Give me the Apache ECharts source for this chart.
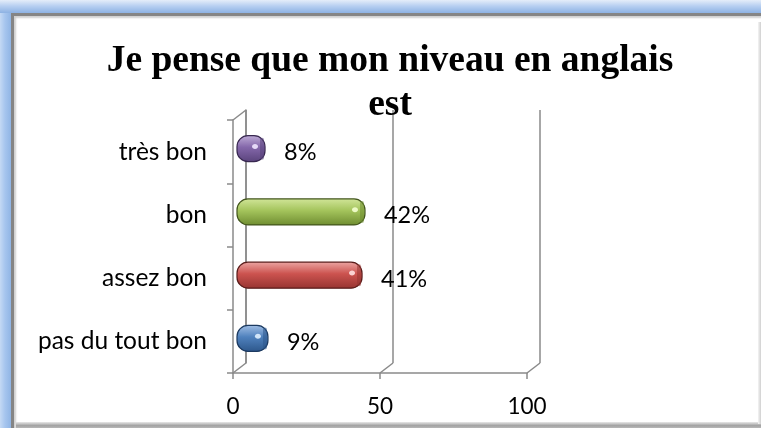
<!DOCTYPE html>
<html>
<head>
<meta charset="utf-8">
<script src="https://cdn.jsdelivr.net/npm/echarts@6/dist/echarts.min.js"></script>
<style>
html,body{margin:0;padding:0;width:761px;height:428px;overflow:hidden;background:#fff}
#frame{position:absolute;left:0;top:0;width:761px;height:428px;background:linear-gradient(to bottom,#e4edf9 0px,#b7cff1 6px,#8db2e3 13px,#8db2e3 100%)}
#leftband{position:absolute;left:0;top:13px;width:11px;height:415px;background:linear-gradient(to right,#c4d9f4 0px,#a6c5ee 5px,#90b5e5 11px)}
#panel{position:absolute;left:11px;top:13px;width:750px;height:415px;background:#fff;box-shadow:inset 3px 3px 0 #858585, inset 5px 5px 2px #d0d0d0}
#bottom{position:absolute;left:16px;top:422px;width:745px;height:6px;background:linear-gradient(to bottom,#e8e8e8,#a2a2a2 60%,#b8b8b8)}
#right{position:absolute;left:758px;top:22px;width:3px;height:402px;background:linear-gradient(to right,#f4f4f4,#d0d0d0)}
#chart{position:absolute;left:0;top:0;width:761px;height:428px}
</style>
</head>
<body>
<div id="frame"></div>
<div id="leftband"></div>
<div id="panel"></div>
<div id="bottom"></div>
<div id="right"></div>
<div id="chart"></div>
<script>
// ---- data ----
const titleText = 'Je pense que mon niveau en anglais\nest';
const categories = ['pas du tout bon', 'assez bon', 'bon', 'très bon'];
const values = [9, 41, 42, 8];
const xTicks = [0, 50, 100];
const xMin = 0, xMax = 100, xInterval = 50;

// ---- styles ----
const barColors = [
  {light: '#a3c0e6', base: '#4f81bd', dark: '#2c568a', border: '#1c3a60', spot: '#dff0ff'},
  {light: '#eca8a5', base: '#cc534f', dark: '#963431', border: '#5a1d1b', spot: '#ffe0e0'},
  {light: '#d2e69a', base: '#a4c45c', dark: '#6e8c30', border: '#43561d', spot: '#f4ffd0'},
  {light: '#c0aed8', base: '#8467aa', dark: '#59437b', border: '#382850', spot: '#f0e6ff'}
];
const FRONT = {left: 233, top: 120, width: 294, height: 253};
const DX = 13, DY = -10;
const BARS = {left: 241.5, top: 117, width: 294, height: 253};
const gray = '#8a8a8a';
const labelFont = 'Lato, "Open Sans", sans-serif';

const chart = echarts.init(document.getElementById('chart'), null, {renderer: 'canvas'});

function renderBar(params, api) {
  const v = api.value(0), c = api.value(1);
  const start = api.coord([0, c]);
  const end = api.coord([v, c]);
  const h = 26;
  const x0 = start[0] - 4.5;
  const w = end[0] - x0;
  const col = barColors[params.dataIndex];
  const y0 = end[1] - h / 2;
  return {
    type: 'group',
    children: [
      {
        type: 'rect',
        shape: {x: x0, y: y0, width: w, height: h, r: Math.min(11, w / 2)},
        style: {
          fill: new echarts.graphic.LinearGradient(0, 0, 0, 1, [
            {offset: 0, color: col.light},
            {offset: 0.45, color: col.base},
            {offset: 1, color: col.dark}
          ]),
          stroke: col.border, lineWidth: 1.2
        }
      },
      {
        type: 'rect',
        shape: {x: end[0] - 5, y: y0 + 2, width: 4, height: h - 4, r: 2},
        style: {fill: col.dark, opacity: 0.55}
      },
      {
        type: 'ellipse',
        shape: {cx: end[0] - 10, cy: y0 + h * 0.42, rx: 3, ry: 2.5},
        style: {fill: col.spot, opacity: 0.9}
      },
      {
        type: 'text',
        style: {
          text: v + '%', x: end[0] + 19, y: end[1] + 4,
          align: 'left', verticalAlign: 'middle',
          fontSize: 23.5, fontFamily: labelFont, fill: '#000'
        }
      }
    ]
  };
}

const option = {
  animation: false,
  title: {
    text: titleText,
    left: 390,
    top: 39,
    padding: 0,
    textAlign: 'center',
    textStyle: {
      fontFamily: '"Liberation Serif", "Times New Roman", serif',
      fontWeight: 'bold',
      fontSize: 37.5,
      lineHeight: 44,
      color: '#000'
    }
  },
  grid: [
    {left: FRONT.left, top: FRONT.top, width: FRONT.width, height: FRONT.height},
    {left: FRONT.left + DX, top: FRONT.top + DY, width: FRONT.width, height: FRONT.height},
    {left: BARS.left, top: BARS.top, width: BARS.width, height: BARS.height}
  ],
  xAxis: [
    {
      gridIndex: 0, type: 'value', min: xMin, max: xMax, interval: xInterval,
      axisLine: {show: true, lineStyle: {color: gray, width: 1.5}},
      axisTick: {show: true, length: 6, lineStyle: {color: gray, width: 1.5}},
      axisLabel: {margin: 22, fontSize: 22.5, fontFamily: labelFont, color: '#000'},
      splitLine: {show: false}
    },
    {
      gridIndex: 1, type: 'value', min: xMin, max: xMax, interval: xInterval,
      axisLine: {show: false}, axisTick: {show: false}, axisLabel: {show: false},
      splitLine: {show: true, lineStyle: {color: gray, width: 1.5}}
    },
    {
      gridIndex: 2, type: 'value', min: xMin, max: xMax, interval: xInterval,
      axisLine: {show: false}, axisTick: {show: false}, axisLabel: {show: false},
      splitLine: {show: false}
    }
  ],
  yAxis: [
    {
      gridIndex: 0, type: 'category', data: categories,
      axisLine: {show: true, lineStyle: {color: gray, width: 1.5}},
      axisTick: {show: true, length: 6, lineStyle: {color: gray, width: 1.5}},
      axisLabel: {margin: 26, fontSize: 24.5, fontFamily: labelFont, color: '#000'}
    },
    {
      gridIndex: 1, type: 'category', data: categories,
      axisLine: {show: true, lineStyle: {color: gray, width: 1.5}},
      axisTick: {show: false}, axisLabel: {show: false}
    },
    {
      gridIndex: 2, type: 'category', data: categories,
      axisLine: {show: false}, axisTick: {show: false}, axisLabel: {show: false}
    }
  ],
  series: [{
    type: 'custom',
    xAxisIndex: 2, yAxisIndex: 2,
    data: values.map((v, i) => [v, i]),
    encode: {x: 0, y: 1},
    renderItem: renderBar
  }]
};
chart.setOption(option);

// depth connectors between front axes and back wall
const lines = [];
const bottomY = FRONT.top + FRONT.height;
xTicks.forEach(t => {
  const px = chart.convertToPixel({xAxisIndex: 0}, t);
  lines.push([px, bottomY, px + DX, bottomY + DY]);
});
lines.push([FRONT.left, FRONT.top, FRONT.left + DX, FRONT.top + DY]);
chart.setOption({
  graphic: lines.map(l => ({
    type: 'line', silent: true,
    shape: {x1: l[0], y1: l[1], x2: l[2], y2: l[3]},
    style: {stroke: gray, lineWidth: 1.5}
  }))
});
</script>
</body>
</html>
